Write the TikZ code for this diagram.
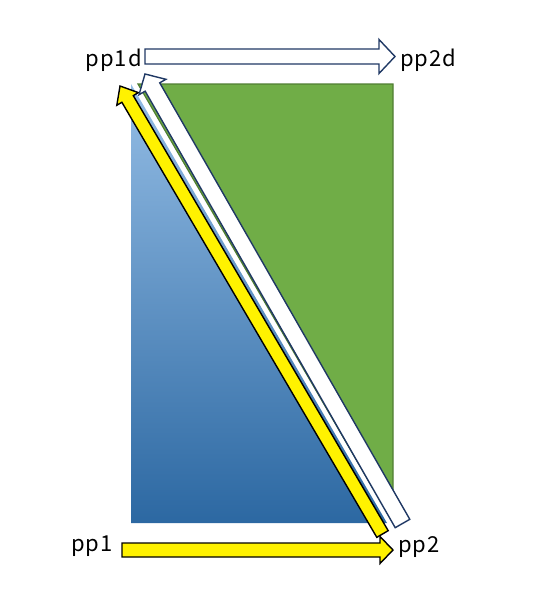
\documentclass[tikz,border=0pt]{standalone}
\usepackage{fontspec}
\setmainfont{Noto Sans CJK JP}
\newfontfamily\lblfont[LetterSpace=5]{Noto Sans CJK JP}
\usetikzlibrary{calc}
\definecolor{bluetop}{RGB}{148,189,229}
\definecolor{bluemid}{RGB}{101,162,216}
\definecolor{bluebot}{RGB}{44,104,162}
\definecolor{greenfill}{RGB}{112,173,71}
\definecolor{greenline}{RGB}{80,126,50}
\definecolor{navy}{RGB}{31,56,100}
\newcommand\blockarrow[6]{%
  \coordinate (ba-hb) at ($(#3)!#6!(#2)$);
  \draw[#1] ($(#2)!#4!90:(#3)$) -- ($(ba-hb)!#4!-90:(#2)$) -- ($(ba-hb)!#5!-90:(#2)$) -- (#3)
    -- ($(ba-hb)!#5!90:(#2)$) -- ($(ba-hb)!#4!90:(#2)$) -- ($(#2)!#4!-90:(#3)$) -- cycle;
}
\tikzset{
  yarrow/.style={fill=yellow, draw=black, line width=1.4pt, line join=miter},
  warrow/.style={fill=white, draw=navy, line width=1.4pt, line join=miter},
  lbl/.style={font=\lblfont\fontsize{22}{26}\selectfont, inner sep=0pt, text=black}
}
\begin{document}
\begin{tikzpicture}[x=1pt,y=-1pt]
\useasboundingbox (0,0) rectangle (535,613);
% triangles
\shade[top color=bluetop, middle color=bluemid, bottom color=bluebot] (131,84) -- (131,523) -- (387,523) -- cycle;
\filldraw[fill=greenfill, draw=greenline, line width=1.2pt] (138,84) -- (393,84) -- (393,523) -- cycle;
% coordinates
\coordinate (ytail) at (382.5,534);
\coordinate (ytip) at (120,86);
\coordinate (wtail) at (402.5,523.5);
\coordinate (wtip) at (145,74);
\coordinate (ttail) at (145,56.5);
\coordinate (ttip) at (395,56.5);
\coordinate (btail) at (122,550);
\coordinate (btip) at (393,550);
% diagonal arrows
\blockarrow{yarrow}{ytail}{ytip}{6.6pt}{12.5pt}{15pt}
\blockarrow{warrow}{wtail}{wtip}{8.4pt}{15.5pt}{15pt}
% horizontal arrows
\blockarrow{warrow}{ttail}{ttip}{7.5pt}{17pt}{16pt}
\blockarrow{yarrow}{btail}{btip}{7pt}{13.5pt}{13pt}
% labels
\node[lbl, anchor=base east] (pp1d) at (142,66) {pp1d};
\node[lbl, anchor=base west] (pp2d) at (400,66) {pp2d};
\node[lbl, anchor=base east] (pp1) at (113,551) {pp1};
\node[lbl, anchor=base west] (pp2) at (398,552) {pp2};
\end{tikzpicture}
\end{document}
